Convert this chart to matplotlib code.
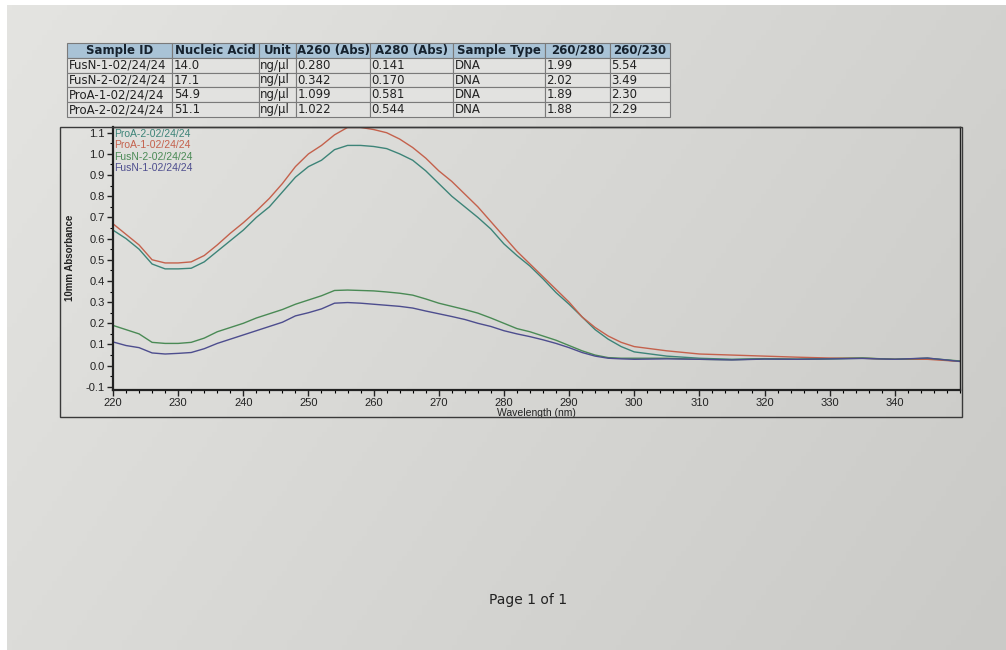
import numpy as np
import matplotlib
matplotlib.use("Agg")
import matplotlib.pyplot as plt
from matplotlib.patches import Rectangle
from matplotlib.ticker import MultipleLocator, FormatStrFormatter

# ---- table data ----
col_labels = ["Sample ID", "Nucleic Acid", "Unit", "A260 (Abs)", "A280 (Abs)",
              "Sample Type", "260/280", "260/230"]
sample_ids = ["FusN-1-02/24/24", "FusN-2-02/24/24", "ProA-1-02/24/24", "ProA-2-02/24/24"]
nucleic    = ["14.0", "17.1", "54.9", "51.1"]
units      = ["ng/µl"] * 4
a260       = ["0.280", "0.342", "1.099", "1.022"]
a280       = ["0.141", "0.170", "0.581", "0.544"]
stype      = ["DNA"] * 4
r260_280   = ["1.99", "2.02", "1.89", "1.88"]
r260_230   = ["5.54", "3.49", "2.30", "2.29"]

# ---- spectra ----
wl = [220, 222, 224, 226, 228, 230, 232, 234, 236, 238, 240, 242, 244, 246, 248,
      250, 252, 254, 256, 258, 260, 262, 264, 266, 268, 270, 272, 274, 276, 278,
      280, 282, 284, 286, 288, 290, 292, 294, 296, 298, 300, 305, 310, 315, 320,
      325, 330, 335, 340, 345, 350]

proa2 = [0.64, 0.60, 0.55, 0.48, 0.457, 0.457, 0.46, 0.49, 0.54, 0.59, 0.64, 0.70,
         0.75, 0.82, 0.89, 0.94, 0.97, 1.02, 1.04, 1.04, 1.035, 1.025, 1.00, 0.97,
         0.92, 0.86, 0.80, 0.75, 0.70, 0.645, 0.575, 0.52, 0.47, 0.41, 0.345, 0.29,
         0.23, 0.17, 0.125, 0.09, 0.065, 0.045, 0.035, 0.03, 0.033, 0.03, 0.032,
         0.035, 0.03, 0.034, 0.02]
proa1 = [0.67, 0.62, 0.57, 0.50, 0.485, 0.485, 0.49, 0.52, 0.57, 0.625, 0.675, 0.73,
         0.79, 0.86, 0.94, 1.00, 1.04, 1.09, 1.125, 1.125, 1.115, 1.10, 1.07, 1.03,
         0.98, 0.92, 0.87, 0.81, 0.75, 0.68, 0.61, 0.54, 0.48, 0.42, 0.36, 0.30,
         0.23, 0.18, 0.14, 0.11, 0.09, 0.07, 0.055, 0.05, 0.045, 0.04, 0.036,
         0.035, 0.03, 0.03, 0.02]
fusn2 = [0.19, 0.17, 0.15, 0.11, 0.105, 0.105, 0.11, 0.13, 0.16, 0.18, 0.20, 0.225,
         0.245, 0.265, 0.29, 0.31, 0.33, 0.355, 0.357, 0.355, 0.353, 0.348, 0.342,
         0.333, 0.315, 0.295, 0.28, 0.265, 0.248, 0.225, 0.20, 0.175, 0.16, 0.14,
         0.12, 0.095, 0.07, 0.05, 0.038, 0.035, 0.035, 0.035, 0.03, 0.028, 0.032,
         0.03, 0.033, 0.036, 0.03, 0.035, 0.022]
fusn1 = [0.112, 0.095, 0.085, 0.06, 0.055, 0.058, 0.062, 0.08, 0.105, 0.125, 0.145,
         0.165, 0.185, 0.205, 0.235, 0.25, 0.268, 0.295, 0.298, 0.295, 0.29, 0.285,
         0.28, 0.272, 0.258, 0.245, 0.232, 0.218, 0.20, 0.185, 0.165, 0.15, 0.137,
         0.122, 0.105, 0.085, 0.062, 0.045, 0.035, 0.032, 0.03, 0.032, 0.03, 0.027,
         0.031, 0.03, 0.032, 0.034, 0.03, 0.036, 0.02]

series = [("ProA-2-02/24/24", proa2, "#3d8478"),
          ("ProA-1-02/24/24", proa1, "#c4614c"),
          ("FusN-2-02/24/24", fusn2, "#4a8a55"),
          ("FusN-1-02/24/24", fusn1, "#4d4d8e")]

W, H = 1006, 650
fig = plt.figure(figsize=(W / 100, H / 100), dpi=100, facecolor="white")

# paper background (photo of a printed page)
bg = fig.add_axes([7 / W, 0, 1 - 7 / W, 1 - 5 / H], zorder=-10)
gx = np.linspace(0, 1, 200)
gy = np.linspace(0, 1, 130)
shade = 228 - 18 * gx[None, :] - 8 * gy[:, None]
img = np.dstack([shade, shade, shade - 3]) / 255.0
bg.imshow(img, aspect="auto", extent=[0, 1, 0, 1], origin="upper")
bg.axis("off")

def fx(px):
    return px / W

def fy(py):
    return 1 - py / H

# ---- table ----
tax = fig.add_axes([fx(67), fy(117), fx(603), 74 / H])
tax.axis("off")
cell_text = [list(r) for r in zip(sample_ids, nucleic, units, a260, a280,
                                  stype, r260_280, r260_230)]
widths = np.array([105, 87, 37, 74, 83, 92, 65, 60], dtype=float)
tbl = tax.table(cellText=cell_text, colLabels=col_labels, colWidths=widths / widths.sum(),
                cellLoc="left", colLoc="center", bbox=[0, 0, 1, 1])
tbl.auto_set_font_size(False)
tbl.set_fontsize(8.5)
for (r, c), cell in tbl.get_celld().items():
    cell.set_edgecolor("#7a7a7a")
    cell.set_linewidth(0.8)
    cell.PAD = 0.02
    if r == 0:
        cell.set_facecolor("#a9c3d6")
        cell.get_text().set_fontweight("bold")
        cell.get_text().set_color("#16222e")
    else:
        cell.set_facecolor("#e2e2e0")
        cell.get_text().set_color("#222222")

# ---- chart frame ----
fig.patches.append(Rectangle((fx(60), fy(417)), fx(902), 290 / H, transform=fig.transFigure,
                             fill=False, edgecolor="#3a3a3a", lw=1.0, zorder=1))

ax = fig.add_axes([fx(113), fy(390), fx(847), 263 / H])
ax.set_facecolor("none")
for name, y, col in series:
    ax.plot(wl, y, color=col, lw=1.0, label=name)

ax.set_xlim(220, 350)
ax.set_ylim(-0.115, 1.127)
ax.xaxis.set_major_locator(MultipleLocator(10))
ax.xaxis.set_minor_locator(MultipleLocator(2))
ax.yaxis.set_major_locator(MultipleLocator(0.1))
ax.yaxis.set_minor_locator(MultipleLocator(0.05))
ax.yaxis.set_major_formatter(FormatStrFormatter("%.1f"))
ax.set_xticks(np.arange(220, 341, 10))
ax.tick_params(which="major", length=4, width=1, direction="out", labelsize=8,
               colors="#222222", pad=2)
ax.tick_params(which="minor", length=2, width=0.8, direction="out")
for lab in ax.get_xticklabels() + ax.get_yticklabels():
    lab.set_family("Liberation Sans")
ax.spines["left"].set_linewidth(1.6)
ax.spines["bottom"].set_linewidth(1.6)
ax.spines["top"].set_linewidth(1.0)
ax.spines["right"].set_linewidth(1.0)
for s in ax.spines.values():
    s.set_color("#222222")

ax.set_xlabel("Wavelength (nm)", fontsize=7.5, family="Liberation Sans",
              color="#222222", labelpad=0)
fig.text(fx(70), fy(258), "10mm Absorbance", rotation=90, ha="center", va="center",
         fontsize=7, fontweight="bold", family="Liberation Sans", color="#222222")

leg = ax.legend(loc="upper left", frameon=False, handlelength=0, handletextpad=0,
                labelspacing=0.15, borderaxespad=0.1, borderpad=0.05,
                prop={"family": "Liberation Sans", "size": 7.5}, labelcolor="linecolor")
for h in leg.legend_handles:
    h.set_visible(False)

fig.text(fx(528), fy(600), "Page 1 of 1", ha="center", va="center", fontsize=10,
         color="#222222")

fig.savefig("out.png", dpi=100)
